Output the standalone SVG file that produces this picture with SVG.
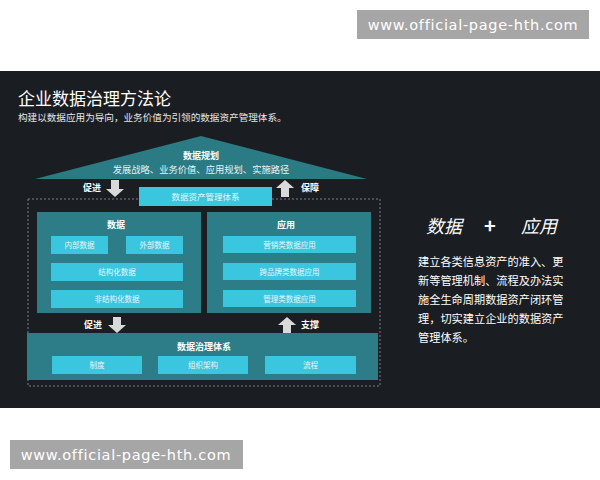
<svg xmlns="http://www.w3.org/2000/svg" width="600" height="480" viewBox="0 0 600 480">
<style>
text{font-family:"Noto Sans CJK SC","Noto Sans",sans-serif;}
.wm{fill:#a6a6a6}
.wmt{fill:#ffffff;font-family:"DejaVu Sans","Liberation Sans",sans-serif;font-size:14.5px;letter-spacing:0.7px}
.panel{fill:#2c7d87}
.cell{fill:#3ac6df}
.ttl{fill:#ffffff;font-size:9px;font-weight:bold;text-anchor:middle}
.ct{fill:#e8f6fa;font-size:7.5px;text-anchor:middle}
.lbl{fill:#ffffff;font-size:9px;font-weight:bold;text-anchor:middle}
.arr{fill:#d9d9d9}
</style>
<rect x="0" y="0" width="600" height="480" fill="#ffffff"/>
<rect x="0" y="71" width="600" height="337" fill="#1a1d21"/>
<g id="watermark-top"><rect class="wm" x="357" y="10" width="232" height="29"/><text class="wmt" x="473" y="30" text-anchor="middle">www.official-page-hth.com</text></g>
<g id="watermark-bottom"><rect class="wm" x="10" y="440" width="233" height="29"/><text class="wmt" x="126" y="460" text-anchor="middle">www.official-page-hth.com</text></g>
<g id="title">
<text x="18" y="105" fill="#ffffff" font-size="17">企业数据治理方法论</text>
<text x="18" y="121" fill="#e6e6e6" font-size="9.6">构建以数据应用为导向，业务价值为引领的数据资产管理体系。</text>
</g>
<g id="frame"><rect x="28" y="199" width="352" height="187" fill="none" stroke="#7a7f85" stroke-width="1" stroke-dasharray="2,2"/></g>
<g id="roof">
<polygon points="35,179 201,136 367,179" fill="#2a7b84"/>
<text class="ttl" x="201" y="159" font-size="10">数据规划</text>
<text x="201" y="173" fill="#e6f4f6" font-size="9.3" text-anchor="middle">发展战略、业务价值、应用规划、实施路径</text>
</g>
<g id="asset"><rect class="cell" x="139" y="187" width="133" height="19"/><text x="205.5" y="200" fill="#e8f6fa" font-size="8.5" text-anchor="middle">数据资产管理体系</text></g>
<g id="data">
<rect class="panel" x="37" y="212" width="164" height="101"/>
<text class="ttl" x="116" y="228">数据</text>
<rect class="cell" x="51" y="236" width="57" height="18"/><text class="ct" x="79.5" y="248">内部数据</text>
<rect class="cell" x="126" y="236" width="57" height="18"/><text class="ct" x="154.5" y="248">外部数据</text>
<rect class="cell" x="51" y="263" width="132" height="18"/><text class="ct" x="117" y="275">结构化数据</text>
<rect class="cell" x="51" y="290" width="132" height="18"/><text class="ct" x="117" y="302">非结构化数据</text>
</g>
<g id="app">
<rect class="panel" x="207" y="212" width="164" height="101"/>
<text class="ttl" x="286" y="228">应用</text>
<rect class="cell" x="223" y="236" width="133" height="17"/><text class="ct" x="289.5" y="247.5">营销类数据应用</text>
<rect class="cell" x="223" y="263" width="133" height="17"/><text class="ct" x="289.5" y="274.5">跨品牌类数据应用</text>
<rect class="cell" x="223" y="290" width="133" height="17"/><text class="ct" x="289.5" y="301.5">管理类数据应用</text>
</g>
<g id="governance">
<rect class="panel" x="27" y="333" width="351" height="47"/>
<text class="ttl" x="204" y="350">数据治理体系</text>
<rect class="cell" x="52" y="356" width="90" height="18"/><text class="ct" x="97" y="368">制度</text>
<rect class="cell" x="158" y="356" width="90" height="18"/><text class="ct" x="203" y="368">组织架构</text>
<rect class="cell" x="265" y="356" width="91" height="18"/><text class="ct" x="310.5" y="368">流程</text>
</g>
<g id="connectors">
<polygon class="arr" points="111,180 119,180 119,189 124,189 115,197 106,189 111,189"/>
<text class="lbl" x="92" y="190.5">促进</text>
<polygon class="arr" points="281,197 289,197 289,188 294,188 285,180 276,188 281,188"/>
<text class="lbl" x="310" y="190.5">保障</text>
<polygon class="arr" points="113,317 121,317 121,325 126,325 117,333 108,325 113,325"/>
<text class="lbl" x="93" y="328">促进</text>
<polygon class="arr" points="283,333 291,333 291,325 296,325 287,317 278,325 283,325"/>
<text class="lbl" x="310" y="328">支撑</text>
</g>
<g id="side">
<text x="426" y="233" fill="#ffffff" font-size="18" font-style="italic">数据</text>
<text x="490" y="233" fill="#ffffff" font-size="20" font-weight="bold" text-anchor="middle">+</text>
<text x="521" y="233" fill="#ffffff" font-size="18" font-style="italic">应用</text>
<g fill="#ffffff" font-size="11.2">
<text x="418" y="266">建立各类信息资产的准入、更</text>
<text x="418" y="285">新等管理机制、流程及办法实</text>
<text x="418" y="304">施全生命周期数据资产闭环管</text>
<text x="418" y="323">理，切实建立企业的数据资产</text>
<text x="418" y="342">管理体系。</text>
</g>
</g>
</svg>
